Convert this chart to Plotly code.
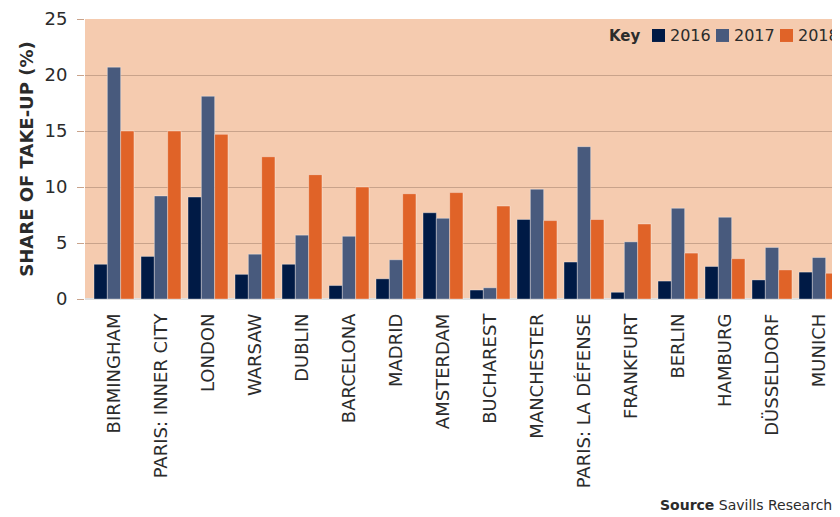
import plotly.graph_objects as go

cities = ["BIRMINGHAM", "PARIS: INNER CITY", "LONDON", "WARSAW", "DUBLIN",
          "BARCELONA", "MADRID", "AMSTERDAM", "BUCHAREST", "MANCHESTER",
          "PARIS: LA DÉFENSE", "FRANKFURT", "BERLIN", "HAMBURG", "DÜSSELDORF",
          "MUNICH"]
share_2016 = [3.1, 3.8, 9.1, 2.2, 3.1, 1.2, 1.8, 7.7, 0.8, 7.1, 3.3, 0.6, 1.6, 2.9, 1.7, 2.4]
share_2017 = [20.7, 9.2, 18.1, 4.0, 5.7, 5.6, 3.5, 7.2, 1.0, 9.8, 13.6, 5.1, 8.1, 7.3, 4.6, 3.7]
share_2018 = [15.0, 15.0, 14.7, 12.7, 11.1, 10.0, 9.4, 9.5, 8.3, 7.0, 7.1, 6.7, 4.1, 3.6, 2.6, 2.3]

years = ["2016", "2017", "2018"]
colors = ["#001a45", "#485a7d", "#e06328"]
series = [share_2016, share_2017, share_2018]

FONT = "DejaVu Sans"
TEXT = "#2b2b2b"

# the page puts the figure 8px in from the top-left corner, so keep it inside the window
OFF = 8
W, H = 840 - OFF, 517 - OFF
L, T = 85 - OFF, 19 - OFF
B = H - (299.5 - OFF)
PW, PH = W - L, H - T - B


def px(x):
    return (x - OFF - L) / PW


def py(y):
    return (H - B - (y - OFF)) / PH


fig = go.Figure()
for name, vals, color in zip(years, series, colors):
    fig.add_trace(go.Bar(
        x=cities, y=vals, name=name, showlegend=False,
        marker=dict(color=color, line=dict(color="rgba(255,255,255,0.35)", width=1)),
    ))

fig.update_layout(
    width=W, height=H,
    margin=dict(l=L, r=0, t=T, b=B, autoexpand=False),
    paper_bgcolor="white",
    plot_bgcolor="#f5cbaf",
    barmode="group",
    bargap=0.15,
    bargroupgap=0,
    font=dict(family=FONT, color=TEXT),
    xaxis=dict(
        range=[-0.617, -0.617 + PW / 47.0],
        tickangle=-90,
        tickfont=dict(size=18, color=TEXT),
        ticklabelstandoff=10,
        showgrid=False,
        ticks="",
        showline=False,
    ),
    yaxis=dict(
        range=[0, 25],
        dtick=5,
        tickfont=dict(size=18, color=TEXT),
        ticklabelstandoff=6,
        gridcolor="#c9a38b",
        gridwidth=1,
        ticks="outside",
        ticklen=7,
        tickcolor="#c9a38b",
        zeroline=True,
        zerolinecolor="#e0e0e0",
        zerolinewidth=2,
        title=dict(text="<b>SHARE OF TAKE-UP (%)</b>", font=dict(size=18, color=TEXT), standoff=6),
    ),
)

# key, drawn by hand so it stays as compact as in the original
shift = -5
fig.add_annotation(
    xref="paper", yref="paper", x=px(648 + shift), y=py(36),
    xanchor="right", yanchor="middle", showarrow=False,
    text="<b>Key</b>", font=dict(size=15, color=TEXT),
)
for i, (name, color) in enumerate(zip(years, colors)):
    x0 = 657 + shift + i * 64
    fig.add_shape(
        type="rect", xref="paper", yref="paper",
        x0=px(x0), x1=px(x0 + 13), y0=py(42), y1=py(29),
        fillcolor=color, line=dict(width=0),
    )
    fig.add_annotation(
        xref="paper", yref="paper", x=px(x0 + 16), y=py(36),
        xanchor="left", yanchor="middle", showarrow=False,
        text=name, font=dict(size=16, color=TEXT),
    )

fig.add_annotation(
    xref="paper", yref="paper", x=px(658), y=py(496),
    xanchor="left", yanchor="top", showarrow=False,
    text="<b>Source</b> Savills Research",
    font=dict(size=14, color=TEXT),
)

fig.write_html("out.html")
